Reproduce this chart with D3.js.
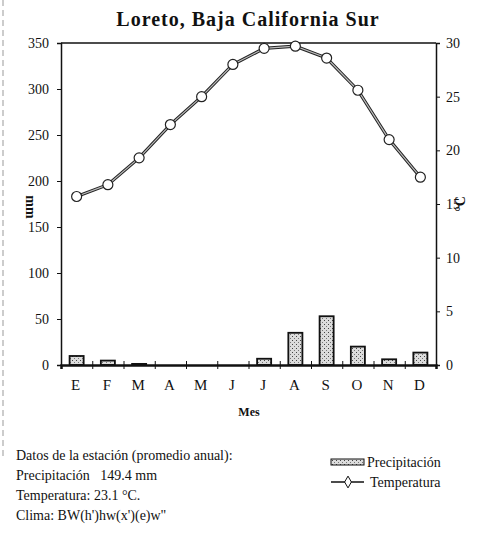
<!DOCTYPE html>
<html lang="es">
    <head>
        <meta charset="utf-8">
        <title>Loreto climograma</title>
        <script src="https://d3js.org/d3.v7.min.js"></script>
        <style>
            body { margin: 0; background: #fff; }
            text { font-family: "Liberation Serif", "Times New Roman", serif; fill: #111; }
        </style>
    </head>
    <body>
        <svg width="483" height="533" id="svg"></svg>
        <script>
                // datos mensuales
                var meses = ["E","F","M","A","M","J","J","A","S","O","N","D"];
                var precipitacion = [9.8, 4.8, 1.2, 0, 0, 0, 6.8, 35, 53, 20, 6.2, 13.5];
                var temperatura = [15.7, 16.8, 19.3, 22.4, 25.0, 28.0, 29.5, 29.7, 28.6, 25.6, 21.0, 17.5];
                var ticksMm = [0, 50, 100, 150, 200, 250, 300, 350];
                var ticksC = [0, 5, 10, 15, 20, 25, 30];
                var notas = ["Datos de la estación (promedio anual):",
                             "Precipitación   149.4 mm",
                             "Temperatura: 23.1 °C.",
                             "Clima: BW(h')hw(x')(e)w\""];

                var svg = d3.select("#svg");
                // margenes del area de dibujo (no usar "top": choca con window.top)
                var pLeft = 61, pRight = 436, pTop = 43, pBottom = 365;

                // trama punteada para las barras
                var pat = svg.append("defs").append("pattern")
                    .attr("id", "punteado").attr("width", 4).attr("height", 4)
                    .attr("patternUnits", "userSpaceOnUse");
                pat.append("rect").attr("width", 4).attr("height", 4).attr("fill", "#dcdcdc");
                pat.append("rect").attr("x", 0).attr("y", 0).attr("width", 1).attr("height", 1).attr("fill", "#444");
                pat.append("rect").attr("x", 2).attr("y", 2).attr("width", 1).attr("height", 1).attr("fill", "#777");

                // linea punteada del borde del escaneo
                svg.append("line").attr("x1", 3).attr("x2", 3).attr("y1", 0).attr("y2", 460)
                    .attr("stroke", "#999").attr("stroke-dasharray", "6,4");

                var x = d3.scaleBand().domain(d3.range(12)).range([pLeft, pRight])
                    .paddingInner(0.55).paddingOuter(0.275);
                var xb = d3.scaleLinear().domain([0, 12]).range([pLeft, pRight]);
                var yL = d3.scaleLinear().domain([0, 350]).range([pBottom, pTop]);
                var yR = d3.scaleLinear().domain([0, 30]).range([pBottom, pTop]);

                // titulo
                svg.append("text").attr("x", 248).attr("y", 26).attr("text-anchor", "middle")
                    .style("font-size", "20px").style("font-weight", "bold").style("letter-spacing", "1px")
                    .text("Loreto, Baja California Sur");

                // barras de precipitacion
                svg.selectAll("rect.bar").data(precipitacion).enter().append("rect")
                    .attr("class", "bar")
                    .attr("x", function(d, i) { return x(i); })
                    .attr("width", x.bandwidth())
                    .attr("y", function(d) { return yL(d); })
                    .attr("height", function(d) { return yL(0) - yL(d); })
                    .attr("fill", "url(#punteado)")
                    .attr("stroke", "#111").attr("stroke-width", 1.8)
                    .style("display", function(d) { return d > 0 ? null : "none"; });

                // borde superior
                svg.append("line").attr("x1", pLeft).attr("x2", pRight).attr("y1", pTop).attr("y2", pTop)
                    .attr("stroke", "#111").attr("stroke-width", 1.5);

                // eje izquierdo
                var gL = svg.append("g").attr("transform", "translate(" + pLeft + ",0)")
                    .call(d3.axisLeft(yL).tickValues(ticksMm).tickSize(4).tickPadding(8));
                // eje derecho
                var gR = svg.append("g").attr("transform", "translate(" + pRight + ",0)")
                    .call(d3.axisRight(yR).tickValues(ticksC).tickSize(4).tickPadding(6));
                // eje inferior con marcas entre meses
                var gB = svg.append("g").attr("transform", "translate(0," + pBottom + ")")
                    .call(d3.axisBottom(xb).tickValues(d3.range(13)).tickSize(4).tickFormat(""));
                gB.selectAll(".tick line").attr("y1", -4);
                gB.select(".domain").attr("stroke-width", 2.5);
                var gM = svg.append("g").attr("transform", "translate(0," + pBottom + ")")
                    .call(d3.axisBottom(x).tickSize(0).tickPadding(14)
                        .tickFormat(function(i) { return meses[i]; }));
                gM.select(".domain").remove();

                [gL, gR, gB].forEach(function(g) {
                    g.selectAll(".domain").attr("stroke", "#111");
                    g.selectAll(".tick line").attr("stroke", "#111");
                });
                gL.select(".domain").attr("stroke-width", 1.5);
                gR.select(".domain").attr("stroke-width", 1.5);
                gL.selectAll(".tick text").style("font-size", "14px");
                gR.selectAll(".tick text").style("font-size", "14px");
                gM.selectAll(".tick text").style("font-size", "15px").attr("dx", -1);
                svg.selectAll(".tick text").style("fill", "#111").style("font-family", "'Liberation Serif', serif");

                // linea de temperatura (doble trazo)
                var linea = d3.line()
                    .x(function(d, i) { return x(i) + x.bandwidth() / 2; })
                    .y(function(d) { return yR(d); });
                svg.append("path").datum(temperatura).attr("d", linea)
                    .attr("fill", "none").attr("stroke", "#222").attr("stroke-width", 3.2);
                svg.append("path").datum(temperatura).attr("d", linea)
                    .attr("fill", "none").attr("stroke", "#bbb").attr("stroke-width", 1.2);
                svg.selectAll("circle.temp").data(temperatura).enter().append("circle")
                    .attr("class", "temp")
                    .attr("cx", function(d, i) { return x(i) + x.bandwidth() / 2; })
                    .attr("cy", function(d) { return yR(d); })
                    .attr("r", 5)
                    .attr("fill", "#fff").attr("stroke", "#222").attr("stroke-width", 1.2);

                // titulos de ejes
                svg.append("text").attr("transform", "translate(26,207) rotate(90)")
                    .attr("text-anchor", "middle").style("font-size", "14px").style("font-weight", "bold").text("mm");
                svg.append("text").attr("transform", "translate(465,204) rotate(-90)")
                    .attr("text-anchor", "middle").style("font-size", "14px").style("font-weight", "bold").text("°C");
                svg.append("text").attr("x", 249).attr("y", 416).attr("text-anchor", "middle")
                    .style("font-size", "12px").style("font-weight", "bold").text("Mes");

                // notas de la estacion
                svg.selectAll("text.nota").data(notas).enter().append("text")
                    .attr("class", "nota")
                    .attr("x", 16)
                    .attr("y", function(d, i) { return 460 + i * 20; })
                    .style("font-size", "14px")
                    .style("white-space", "pre")
                    .text(function(d) { return d; });

                // leyenda
                var ley = svg.append("g");
                ley.append("rect").attr("x", 331).attr("y", 459).attr("width", 33).attr("height", 6)
                    .attr("fill", "url(#punteado)").attr("stroke", "#111").attr("stroke-width", 1);
                ley.append("text").attr("x", 367).attr("y", 467).style("font-size", "14px").text("Precipitación");
                ley.append("line").attr("x1", 331).attr("x2", 364).attr("y1", 482).attr("y2", 482)
                    .attr("stroke", "#111").attr("stroke-width", 1.5);
                ley.append("path").attr("d", d3.symbol(d3.symbolDiamond, 40)())
                    .attr("transform", "translate(348,482)")
                    .attr("fill", "#fff").attr("stroke", "#111").attr("stroke-width", 1);
                ley.append("text").attr("x", 370).attr("y", 487).style("font-size", "14px").text("Temperatura");
        </script>
    </body>
</html>
